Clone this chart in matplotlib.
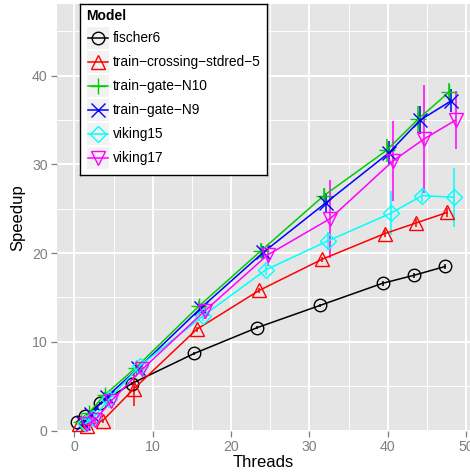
import numpy as np
import matplotlib
matplotlib.use("Agg")
import matplotlib.pyplot as plt

plt.rcParams['font.family'] = ['Liberation Sans', 'DejaVu Sans']

threads = [1, 2, 4, 8, 16, 24, 32, 40, 44, 48]

models = ["fischer6", "train\u2212crossing\u2212stdred\u22125", "train\u2212gate\u2212N10",
          "train\u2212gate\u2212N9", "viking15", "viking17"]

speedup_fischer6 = [1.0, 1.6, 3.1, 5.3, 8.7, 11.6, 14.1, 16.6, 17.5, 18.5]
speedup_crossing = [0.7, 0.5, 1.1, 4.7, 11.4, 15.8, 19.3, 22.2, 23.4, 24.6]
speedup_n10 = [1.0, 2.0, 4.0, 7.1, 14.0, 20.3, 26.5, 31.6, 35.1, 38.2]
speedup_n9 = [0.9, 1.9, 3.8, 7.0, 13.8, 20.1, 25.7, 31.3, 35.0, 37.2]
speedup_v15 = [0.8, 1.4, 3.5, 7.3, 12.9, 18.1, 21.4, 24.5, 26.5, 26.3]
speedup_v17 = [0.7, 1.2, 3.3, 6.9, 13.5, 19.8, 23.9, 30.4, 32.9, 35.0]

# half-width of the error bars
err_fischer6 = [0.05, 0.1, 0.1, 0.2, 0.2, 0.2, 0.2, 0.3, 0.3, 0.3]
err_crossing = [0.1, 0.1, 0.2, 1.9, 0.3, 0.3, 0.3, 0.4, 0.4, 0.5]
err_n10 = [0.1, 0.2, 0.3, 0.4, 0.6, 0.9, 0.9, 1.3, 1.5, 1.0]
err_n9 = [0.1, 0.2, 0.3, 0.4, 0.5, 0.7, 1.1, 1.3, 1.6, 1.3]
err_v15 = [0.1, 0.2, 0.3, 0.4, 0.6, 0.6, 1.0, 2.5, 0.7, 3.3]
err_v17 = [0.1, 0.2, 0.3, 0.5, 0.9, 1.2, 4.4, 4.5, 6.1, 3.3]

speedups = [speedup_fischer6, speedup_crossing, speedup_n10, speedup_n9, speedup_v15, speedup_v17]
errors = [err_fischer6, err_crossing, err_n10, err_n9, err_v15, err_v17]

colors = ["black", "#FF0000", "#00CD00", "#0000FF", "#00FFFF", "#FF00FF"]
markers = ["o", "^", "+", "x", "D", "v"]
msizes = [9, 10, 12, 10, 8, 10]

W, H = 470, 476
fig = plt.figure(figsize=(W / 100, H / 100), dpi=100)
ax = fig.add_axes([56.7 / W, 1 - 430.5 / H, (470 - 56.7) / W, (430.5 - 4) / H])
ax.set_facecolor("#E5E5E5")
for s in ax.spines.values():
    s.set_visible(False)

dodge = 1.6
n = len(models)
for i, (name, y, e) in enumerate(zip(models, speedups, errors)):
    off = dodge * ((i + 0.5) / n - 0.5)
    x = np.array(threads) + off
    ax.errorbar(x, y, yerr=e, fmt="none", ecolor=colors[i], elinewidth=1.1, capsize=0, zorder=3)
    ax.plot(x, y, color=colors[i], lw=1.1, marker=markers[i], ms=msizes[i],
            mfc="none", mec=colors[i], mew=1.0, zorder=4, clip_on=False)

ax.set_xlim(-2.25, 50.5)
ax.set_ylim(0, 48.1)
ax.set_xticks([0, 10, 20, 30, 40, 50])
ax.set_yticks([0, 10, 20, 30, 40])
ax.set_xticks([5, 15, 25, 35, 45], minor=True)
ax.set_yticks([5, 15, 25, 35, 45], minor=True)
ax.grid(which="major", color="white", lw=1.4)
ax.grid(which="minor", color="white", lw=0.7)
ax.set_axisbelow(True)
ax.tick_params(which="major", length=4, width=0.9, color="#7F7F7F", labelcolor="#7F7F7F",
               labelsize=10.2, pad=2.5)
ax.tick_params(which="minor", length=0)
ax.set_xlabel("Threads", fontsize=12, labelpad=1)
ax.set_ylabel("Speedup", fontsize=12, labelpad=5)

# legend drawn in its own small axes, in pixel units
lx0, ly0, lw, lh = 80, 4, 187, 171
lg = fig.add_axes([lx0 / W, 1 - (ly0 + lh) / H, lw / W, lh / H])
lg.set_xlim(0, lw)
lg.set_ylim(lh, 0)
lg.set_xticks([])
lg.set_yticks([])
lg.set_facecolor("white")
for s in lg.spines.values():
    s.set_linewidth(1.0)
    s.set_color("black")
lg.text(6, 11.7, "Model", fontsize=10, fontweight="bold", va="center", ha="left")
key = 22
for i, name in enumerate(models):
    cy = 34.3 + 23.9 * i
    lg.add_patch(plt.Rectangle((17.5 - key / 2, cy - key / 2), key, key, color="#F2F2F2", lw=0))
    lg.plot([17.5 - key / 2 + 1, 17.5 + key / 2 - 1], [cy, cy], color=colors[i], lw=1.1)
    lg.plot([17.5], [cy], marker=markers[i], ms=msizes[i], mfc="none", mec=colors[i], mew=1.0)
    lg.text(32.7, cy, name, fontsize=9.9, va="center", ha="left")

fig.savefig("out.png", dpi=100)
